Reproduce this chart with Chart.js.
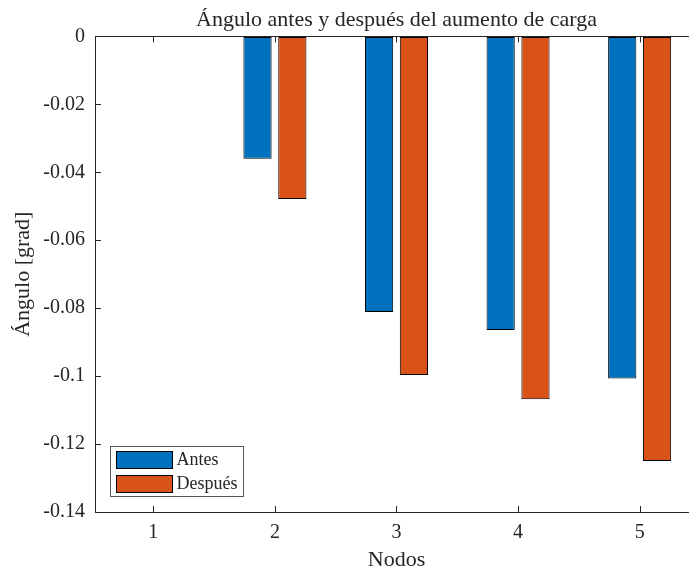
<!DOCTYPE html>
<html lang="es">
<head>
    <meta charset="UTF-8">
    <title>Ángulo antes y después del aumento de carga</title>
    <script src="https://cdn.jsdelivr.net/npm/chart.js"></script>
    <style>
        html, body { margin: 0; padding: 0; overflow: hidden; background: #ffffff; width: 689px; height: 573px; }
        .marco { width: 760px; height: 573px; }
        #grafico { display: block; }
    </style>
</head>
<body>
    <div class="marco">
        <canvas id="grafico" width="760" height="573"></canvas>
    </div>

<script>
    // datos
    const nodos = [1, 2, 3, 4, 5];
    const anguloAntes = [0, -0.0360, -0.0811, -0.0864, -0.1007];
    const anguloDespues = [0, -0.0479, -0.0997, -0.1068, -0.1250];
    const ticksY = [0, -0.02, -0.04, -0.06, -0.08, -0.1, -0.12, -0.14];
    const etiquetasY = ['0', '-0.02', '-0.04', '-0.06', '-0.08', '-0.1', '-0.12', '-0.14'];
    const nombresSeries = ['Antes', 'Después'];

    const azul = '#0072BD';
    const naranja = '#D95319';
    const texto = '#262626';
    const fuente = "'Liberation Serif', 'Times New Roman', serif";

    function puntos(valores) {
        return nodos.map((n, i) => ({ x: n, y: valores[i] }));
    }

    // ejes tipo matlab: caja con marcas hacia dentro + leyenda dentro del area
    const ejesMatlab = {
        id: 'ejesMatlab',
        afterDraw(chart) {
            const ctx = chart.ctx;
            const a = chart.chartArea;
            const sx = chart.scales.x;
            const sy = chart.scales.y;
            const largo = 6;

            ctx.save();
            ctx.strokeStyle = texto;
            ctx.lineWidth = 1;
            ctx.beginPath();
            ctx.rect(Math.round(a.left) + 0.5, Math.round(a.top) + 0.5,
                Math.round(a.right - a.left), Math.round(a.bottom - a.top));
            ctx.stroke();

            ctx.beginPath();
            ticksY.forEach(v => {
                const y = Math.round(sy.getPixelForValue(v)) + 0.5;
                ctx.moveTo(a.left, y); ctx.lineTo(a.left + largo, y);
                ctx.moveTo(a.right, y); ctx.lineTo(a.right - largo, y);
            });
            nodos.forEach(n => {
                const x = Math.round(sx.getPixelForValue(n)) + 0.5;
                ctx.moveTo(x, a.bottom); ctx.lineTo(x, a.bottom - largo);
                ctx.moveTo(x, a.top); ctx.lineTo(x, a.top + largo);
            });
            ctx.stroke();

            // leyenda
            const bx = Math.round(a.left) + 15.5;
            const by = Math.round(a.bottom) - 65.5;
            const bw = 133, bh = 50;
            ctx.fillStyle = '#ffffff';
            ctx.fillRect(bx, by, bw, bh);
            ctx.strokeStyle = '#555555';
            ctx.strokeRect(bx, by, bw, bh);

            ctx.font = '18px ' + fuente;
            ctx.textBaseline = 'middle';
            chart.data.datasets.forEach((ds, i) => {
                const y = by + 5 + i * 24;
                ctx.fillStyle = ds.backgroundColor;
                ctx.fillRect(bx + 6, y, 56, 17);
                ctx.strokeStyle = '#000000';
                ctx.strokeRect(bx + 6, y, 56, 17);
                ctx.fillStyle = texto;
                ctx.fillText(ds.label, bx + 66, y + 9);
            });
            ctx.restore();
        }
    };

    new Chart(document.getElementById('grafico').getContext('2d'), {
        type: 'bar',
        data: {
            datasets: [
                {
                    label: nombresSeries[0],
                    data: puntos(anguloAntes),
                    backgroundColor: azul,
                    borderColor: '#000000',
                    borderWidth: 1,
                    borderSkipped: false
                },
                {
                    label: nombresSeries[1],
                    data: puntos(anguloDespues),
                    backgroundColor: naranja,
                    borderColor: '#000000',
                    borderWidth: 1,
                    borderSkipped: false
                }
            ]
        },
        options: {
            responsive: false,
            animation: false,
            devicePixelRatio: 1,
            categoryPercentage: 0.573,
            barPercentage: 0.81,
            layout: { padding: { left: 10, right: 62, top: 0, bottom: 0 } },
            plugins: {
                legend: { display: false },
                tooltip: { enabled: false },
                title: {
                    display: true,
                    fullSize: false,
                    text: 'Ángulo antes y después del aumento de carga',
                    color: texto,
                    font: { family: fuente, size: 22, weight: 'normal' },
                    padding: { top: 7, bottom: 3 }
                }
            },
            scales: {
                x: {
                    type: 'linear',
                    offset: false,
                    min: 0.52,
                    max: 5.48,
                    afterBuildTicks: s => { s.ticks = nodos.map(v => ({ value: v })); },
                    afterFit: s => { s.height = 61; },
                    grid: { drawOnChartArea: false, drawTicks: false },
                    border: { display: false },
                    ticks: {
                        color: texto,
                        padding: 9,
                        maxRotation: 0,
                        font: { family: fuente, size: 20 },
                        callback: v => String(v)
                    },
                    title: {
                        display: true,
                        text: 'Nodos',
                        color: texto,
                        font: { family: fuente, size: 22 },
                        padding: { top: 2, bottom: 0 }
                    }
                },
                y: {
                    min: -0.14,
                    max: 0,
                    afterBuildTicks: s => { s.ticks = ticksY.map(v => ({ value: v })); },
                    afterFit: s => { s.width = 85; },
                    grid: { drawOnChartArea: false, drawTicks: false },
                    border: { display: false },
                    ticks: {
                        color: texto,
                        padding: 10,
                        font: { family: fuente, size: 20 },
                        callback: (v, i) => etiquetasY[i]
                    },
                    title: {
                        display: true,
                        text: 'Ángulo [grad]',
                        color: texto,
                        font: { family: fuente, size: 22 },
                        padding: { top: 0, bottom: 0 }
                    }
                }
            }
        },
        plugins: [ejesMatlab]
    });
</script>
</body>
</html>
